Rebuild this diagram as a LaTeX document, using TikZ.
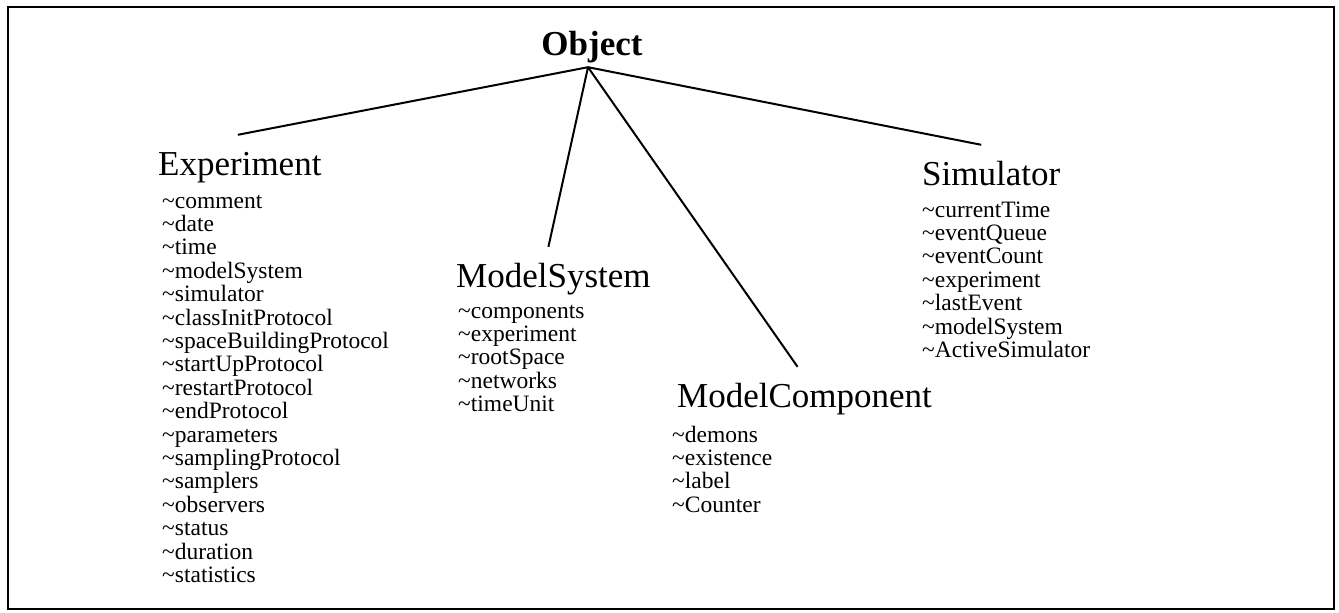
\documentclass[tikz,border=0pt]{standalone}
\usepackage{fontspec}
\setmainfont{Liberation Serif}
\newcommand\tl{\textasciitilde}
\begin{document}
\begin{tikzpicture}[x=1pt,y=-1pt,
  classname/.style={anchor=base west, inner xsep=0pt, inner ysep=16pt,
    text height=24pt, text depth=8pt, font=\fontsize{35}{40}\selectfont},
  attrs/.style={anchor=base west, inner sep=0pt,
    font=\fontsize{23.5}{23.4}\selectfont},
  link/.style={line width=2pt},
]
\useasboundingbox (0,0) rectangle (1339,613);
\draw[line width=1.8pt] (8,7) rectangle (1334,609);

% root class
\node[anchor=base, inner xsep=0pt, inner ysep=4pt, text depth=8pt,
  font=\fontsize{35}{40}\selectfont\bfseries] (obj) at (592,55) {Object};

% subclasses
\node[classname] (exp) at (158,175) {Experiment};
\node[classname] (ms)  at (456,287) {ModelSystem};
\node[classname] (mc)  at (677,407) {ModelComponent};
\node[classname] (sim) at (922,185) {Simulator};

% attribute lists
\node[attrs] (expattr) at (162,208) {\begin{tabular}[t]{@{}l@{}}
\tl comment\\ \tl date\\ \tl time\\ \tl modelSystem\\ \tl simulator\\
\tl classInitProtocol\\ \tl spaceBuildingProtocol\\ \tl startUpProtocol\\
\tl restartProtocol\\ \tl endProtocol\\ \tl parameters\\
\tl samplingProtocol\\ \tl samplers\\ \tl observers\\ \tl status\\
\tl duration\\ \tl statistics
\end{tabular}};

\node[attrs] (msattr) at (458,318) {\begin{tabular}[t]{@{}l@{}}
\tl components\\ \tl experiment\\ \tl rootSpace\\ \tl networks\\ \tl timeUnit
\end{tabular}};

\node[attrs] (mcattr) at (672,442) {\begin{tabular}[t]{@{}l@{}}
\tl demons\\ \tl existence\\ \tl label\\ \tl Counter
\end{tabular}};

\node[attrs] (simattr) at (922,217) {\begin{tabular}[t]{@{}l@{}}
\tl currentTime\\ \tl eventQueue\\ \tl eventCount\\ \tl experiment\\
\tl lastEvent\\ \tl modelSystem\\ \tl ActiveSimulator
\end{tabular}};

% inheritance links
\draw[link] ([xshift=-4pt]obj.south) -- ([xshift=-2pt]exp.north);
\draw[link] ([xshift=-4pt]obj.south) -- ([xshift=-5pt]ms.north);
\draw[link] ([xshift=-4pt]obj.south) -- ([xshift=-7pt]mc.north);
\draw[link] ([xshift=-4pt]obj.south) -- ([xshift=-10pt]sim.north);
\end{tikzpicture}
\end{document}
